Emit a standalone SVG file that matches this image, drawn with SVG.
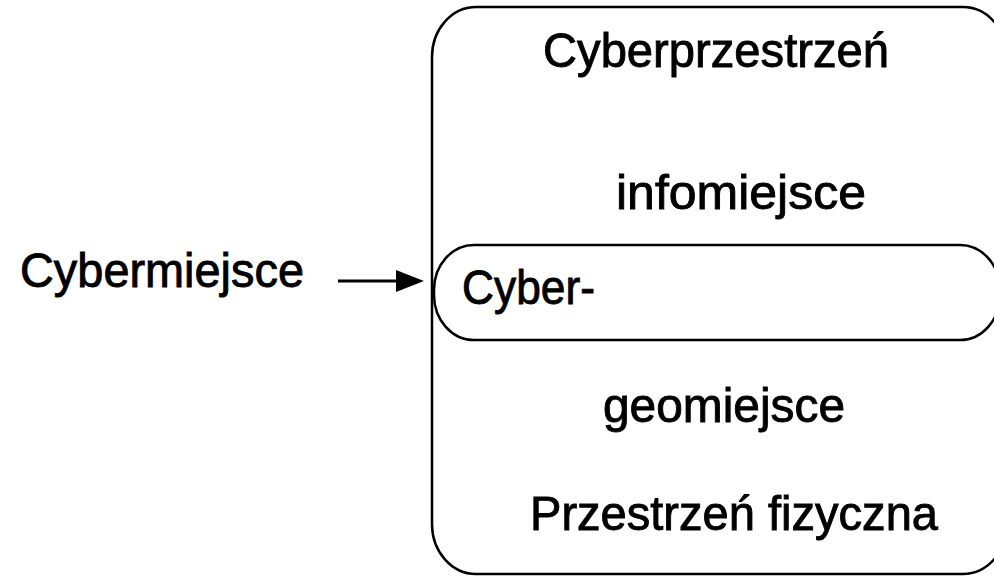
<svg xmlns="http://www.w3.org/2000/svg" width="994" height="577" viewBox="0 0 994 577">
<style>
.box{fill:none;stroke:#000;stroke-width:2.5}
.t{font-family:"Liberation Sans",Arial,sans-serif;font-size:49px;fill:#000;stroke:#000;stroke-width:0.9}
.conn{stroke:#000;stroke-width:3;fill:none}
</style>
<rect width="994" height="577" fill="#fff"/>
<g id="cyberprzestrzen">
<rect class="box" x="432" y="7" width="575" height="567" rx="44" ry="50"/>
<text class="t" x="543" y="67" textLength="346" lengthAdjust="spacingAndGlyphs">Cyberprzestrzeń</text>
<text class="t" x="616" y="209" textLength="250" lengthAdjust="spacingAndGlyphs">infomiejsce</text>
<text class="t" x="603" y="422" textLength="242" lengthAdjust="spacingAndGlyphs">geomiejsce</text>
<text class="t" x="530" y="530" textLength="408" lengthAdjust="spacingAndGlyphs">Przestrzeń fizyczna</text>
</g>
<g id="cyber">
<rect class="box" x="434" y="245" width="566" height="95" rx="40" ry="45"/>
<text class="t" x="462" y="304" textLength="133" lengthAdjust="spacingAndGlyphs">Cyber-</text>
</g>
<g id="cybermiejsce">
<text class="t" x="20" y="287" textLength="284" lengthAdjust="spacingAndGlyphs">Cybermiejsce</text>
</g>
<g id="connectors">
<line class="conn" x1="338" y1="281" x2="400" y2="281"/>
<polygon points="396,270 424,281 396,292" fill="#000"/>
</g>
</svg>
